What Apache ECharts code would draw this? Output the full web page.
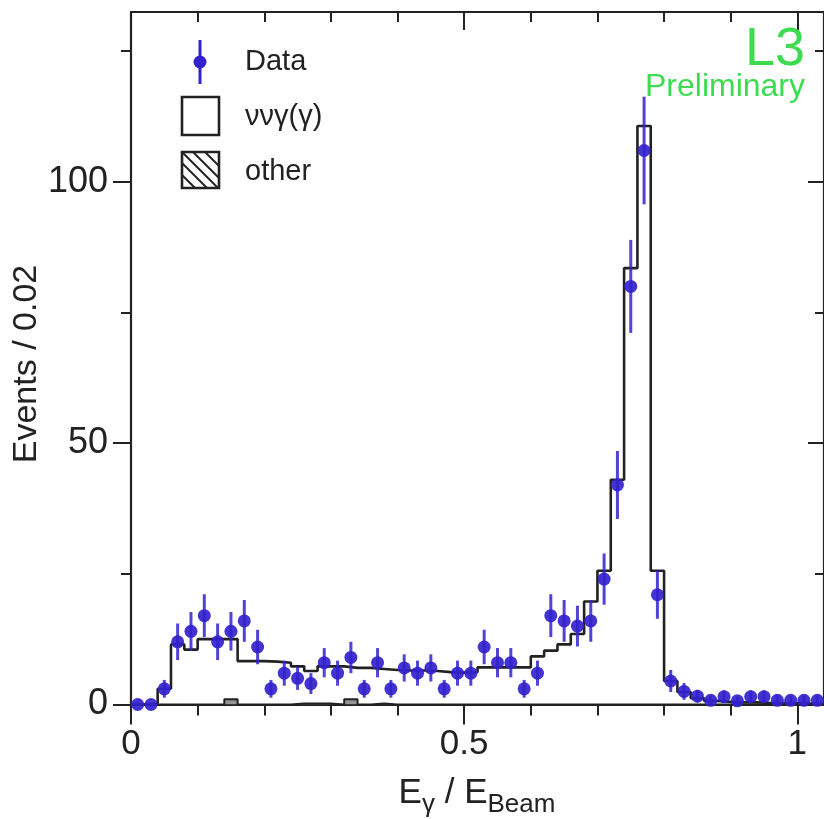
<!DOCTYPE html>
<html><head><meta charset="utf-8">
<script src="https://cdn.jsdelivr.net/npm/echarts@6/dist/echarts.min.js"></script>
<style>html,body{margin:0;padding:0;background:#fff}#c{width:824px;height:819px}</style>
</head><body><div id="c"></div>
<script>
// Bin width of the histogram (Events / 0.02)
const binWidth = 0.02;
// Data counts per bin (bin i covers [0.02 i, 0.02 (i+1)])
const dataCounts = [0, 0, 3, 12, 14, 17, 12, 14, 16, 11,
  3, 6, 5, 4, 8, 6, 9, 3, 8, 3,
  7, 6, 7, 3, 6, 6, 11, 8, 8, 3,
  6, 17, 16, 15, 16, 24, 42, 80, 106, 21,
  4.5, 2.5, 1.6, 0.8, 1.5, 0.7, 1.5, 1.5, 0.8, 0.8,
  0.8, 0.8];
// Error bar half-lengths
const dataErrors = [0, 0, 1.7, 3.5, 3.7, 4.1, 3.5, 3.7, 4.0, 3.3,
  1.7, 2.4, 2.2, 2.0, 2.8, 2.4, 3.0, 1.7, 2.8, 1.7,
  2.6, 2.4, 2.6, 1.7, 2.4, 2.4, 3.3, 2.8, 2.8, 1.7,
  2.4, 4.1, 4.0, 3.9, 4.0, 4.9, 6.5, 8.9, 10.3, 4.6,
  2.1, 1.6, 1.2, 0.9, 1.2, 0.8, 1.2, 1.2, 0.9, 0.9,
  0.9, 0.9];
// Monte Carlo nu nu gamma(gamma) expectation per bin
const mcCounts = [0, 0.2, 3, 11.5, 10.5, 12.5, 12.5, 12.5, 8.3, 8.3,
  8.2, 8.0, 7.3, 6.4, 7.3, 7.3, 7.0, 7.0, 6.8, 6.6,
  6.5, 6.5, 6.4, 6.2, 6.1, 6.2, 7.1, 7.1, 7.1, 7.1,
  9.2, 10.3, 11.5, 13.5, 19.7, 25.6, 43, 83.5, 110.7, 25.6,
  4.5, 2.4, 1.2, 0.7, 0.5, 0.4, 0.4, 0.3, 0.3, 0.3,
  0.2, 0.2];
// Other backgrounds per bin
const otherCounts = [0, 0, 0, 0, 0, 0, 0, 1, 0, 0,
  0, 0, 0.2, 0.2, 0.2, 0, 1, 0, 0.2, 0,
  0, 0, 0, 0, 0, 0, 0, 0, 0, 0,
  0, 0, 0, 0, 0, 0, 0, 0, 0, 0,
  0, 0, 0, 0, 0, 0, 0, 0, 0, 0,
  0, 0];
const xMajorTicks = [0, 0.5, 1];
const xMinorTicks = [0.1, 0.2, 0.3, 0.4, 0.6, 0.7, 0.8, 0.9];
const yMajorTicks = [0, 50, 100];
const yMinorTicks = [25, 75, 125];
const xMin = 0, xMax = 1.04, yMin = 0, yMax = 132.5;

const FONT = 'Liberation Sans, Arial, Helvetica, sans-serif';
const INK = '#222';
const BLUE = '#3322cc';
const GREEN = '#3ddc50';

function stepPoints(counts) {
  const pts = counts.map((v, i) => [i * binWidth, v]);
  pts.push([counts.length * binWidth, counts[counts.length - 1]]);
  return pts;
}
const centers = dataCounts.map((v, i) => (i + 0.5) * binWidth);

function xAx(pos, ticks, len, inside, showLine, showLabel) {
  return {
    type: 'value', position: pos, min: xMin, max: xMax, gridIndex: 0,
    axisLine: { show: showLine, onZero: false, lineStyle: { color: INK, width: 2.2 } },
    axisTick: { show: true, customValues: ticks, length: len, inside: inside, lineStyle: { color: INK, width: 2 } },
    axisLabel: showLabel ? { show: true, customValues: ticks, margin: 40, verticalAlign: 'middle',
      fontFamily: FONT, fontSize: 35, color: INK, formatter: v => String(v) } : { show: false },
    splitLine: { show: false }
  };
}
function yAx(pos, ticks, len, inside, showLine, showLabel) {
  return {
    type: 'value', position: pos, min: yMin, max: yMax, gridIndex: 0,
    axisLine: { show: showLine, onZero: false, lineStyle: { color: INK, width: 2.2 } },
    axisTick: { show: true, customValues: ticks, length: len, inside: inside, lineStyle: { color: INK, width: 2 } },
    axisLabel: showLabel ? { show: true, customValues: ticks, margin: 23,
      fontFamily: FONT, fontSize: 36, color: INK, formatter: v => String(v) } : { show: false },
    splitLine: { show: false }
  };
}

const chart = echarts.init(document.getElementById('c'), null, { renderer: 'canvas' });
chart.setOption({
  animation: false,
  backgroundColor: '#fff',
  grid: { left: 131, right: -3, top: 12, bottom: 114.5, containLabel: false },
  xAxis: [
    xAx('bottom', xMajorTicks, 20, false, true, true),
    xAx('bottom', xMinorTicks, 11, false, false, false),
    xAx('top', xMajorTicks, 18, true, true, false),
    xAx('top', xMinorTicks, 10, true, false, false)
  ],
  yAxis: [
    yAx('left', yMajorTicks, 18, false, true, true),
    yAx('left', yMinorTicks, 10, false, false, false),
    yAx('right', yMajorTicks, 16, true, true, false),
    yAx('right', yMinorTicks, 9, true, false, false)
  ],
  series: [
    {
      name: 'other', type: 'line', step: 'end', xAxisIndex: 0, yAxisIndex: 0,
      data: stepPoints(otherCounts), showSymbol: false, symbol: 'none',
      lineStyle: { color: INK, width: 2 },
      areaStyle: { color: '#666', opacity: 0.7 }, z: 2
    },
    {
      name: 'mc', type: 'line', step: 'end', xAxisIndex: 0, yAxisIndex: 0,
      data: stepPoints(mcCounts), showSymbol: false, symbol: 'none',
      lineStyle: { color: INK, width: 2.6 }, z: 3
    },
    {
      name: 'errors', type: 'custom', xAxisIndex: 0, yAxisIndex: 0,
      data: dataCounts.map((v, i) => [centers[i], v - dataErrors[i], v + dataErrors[i]]),
      encode: { x: 0, y: [1, 2] },
      renderItem: function (params, api) {
        const x = api.value(0);
        const p1 = api.coord([x, api.value(1)]);
        const p2 = api.coord([x, api.value(2)]);
        return { type: 'line', shape: { x1: p1[0], y1: p1[1], x2: p2[0], y2: p2[1] },
          style: { stroke: BLUE, lineWidth: 3, opacity: 0.85 } };
      },
      z: 4
    },
    {
      name: 'Data', type: 'scatter', xAxisIndex: 0, yAxisIndex: 0,
      data: dataCounts.map((v, i) => [centers[i], v]),
      symbol: 'circle', symbolSize: 13,
      itemStyle: { color: BLUE, opacity: 0.92 }, z: 5
    }
  ],
  graphic: [
    // Legend: Data
    { type: 'line', shape: { x1: 200, y1: 40, x2: 200, y2: 84 }, style: { stroke: BLUE, lineWidth: 3 }, z: 10 },
    { type: 'circle', shape: { cx: 200, cy: 62, r: 6.5 }, style: { fill: BLUE }, z: 10 },
    { type: 'text', style: { x: 245, y: 62, text: 'Data', fontFamily: FONT, fontSize: 29, fill: INK, verticalAlign: 'middle' }, z: 10 },
    // Legend: nu nu gamma
    { type: 'rect', shape: { x: 182, y: 97, width: 37, height: 38 }, style: { fill: '#fff', stroke: INK, lineWidth: 2.6 }, z: 10 },
    { type: 'text', style: { x: 245, y: 117, text: 'ννγ(γ)', fontFamily: FONT, fontSize: 29, fill: INK, verticalAlign: 'middle' }, z: 10 },
    // Legend: other (hatched)
    { type: 'rect', shape: { x: 182, y: 152, width: 37, height: 36 }, style: { fill: '#fff', stroke: INK, lineWidth: 2.6 }, z: 10 },
    { type: 'line', shape: { x1: 182, y1: 152, x2: 218, y2: 188 }, style: { stroke: INK, lineWidth: 2 }, z: 11 },
    { type: 'line', shape: { x1: 182, y1: 163, x2: 207, y2: 188 }, style: { stroke: INK, lineWidth: 2 }, z: 11 },
    { type: 'line', shape: { x1: 182, y1: 175, x2: 195, y2: 188 }, style: { stroke: INK, lineWidth: 2 }, z: 11 },
    { type: 'line', shape: { x1: 193, y1: 152, x2: 219, y2: 178 }, style: { stroke: INK, lineWidth: 2 }, z: 11 },
    { type: 'line', shape: { x1: 205, y1: 152, x2: 219, y2: 166 }, style: { stroke: INK, lineWidth: 2 }, z: 11 },
    { type: 'text', style: { x: 245, y: 172, text: 'other', fontFamily: FONT, fontSize: 29, fill: INK, verticalAlign: 'middle' }, z: 10 },
    // L3 Preliminary
    { type: 'text', style: { x: 805, y: 50, text: 'L3', fontFamily: FONT, fontSize: 54, fill: GREEN, align: 'right', verticalAlign: 'middle' }, z: 10 },
    { type: 'text', style: { x: 805, y: 87, text: 'Preliminary', fontFamily: FONT, fontSize: 32, fill: GREEN, align: 'right', verticalAlign: 'middle' }, z: 10 },
    // Y title
    { type: 'text', x: 27, y: 364, rotation: Math.PI / 2,
      style: { x: 0, y: 0, text: 'Events / 0.02', fontFamily: FONT, fontSize: 34, fill: INK, align: 'center', verticalAlign: 'middle' }, z: 10 },
    // X title
    { type: 'text',
      style: { x: 477, y: 776, align: 'center', verticalAlign: 'top',
        text: '{m|E}{s|γ}{m| / E}{s|Beam}',
        rich: {
          m: { fontFamily: FONT, fontSize: 35, lineHeight: 42, verticalAlign: 'top', fill: INK },
          s: { fontFamily: FONT, fontSize: 26, verticalAlign: 'bottom', fill: INK }
        } }, z: 10 }
  ]
});
</script>
</body></html>
